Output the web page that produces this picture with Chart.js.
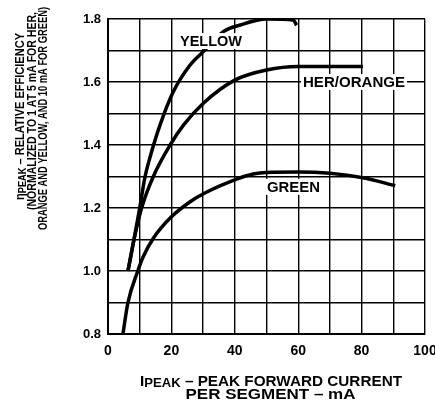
<!DOCTYPE html>
<html lang="en">
<head>
    <meta charset="UTF-8">
    <title>Relative Efficiency vs Peak Current</title>
    <script src="https://cdn.jsdelivr.net/npm/chart.js"></script>
    <style>
        body { margin: 0; background: #fff; }
        canvas { display: block; }
    </style>
</head>
<body>
    <canvas id="chart" width="435" height="419"></canvas>

    <script>
    // data (x = mA, y = relative efficiency)
    const yellowCurrent = [6.3, 8.2, 10, 11.7, 13, 16.4, 20.6, 25.9, 30, 36.4, 41.7, 50, 58.4, 59.5];
    const yellowEff     = [1.0, 1.1, 1.2, 1.3, 1.352, 1.463, 1.569, 1.654, 1.696, 1.76, 1.781, 1.8, 1.797, 1.78];

    const herCurrent = [6.3, 8.2, 10.6, 14.3, 19.6, 23.8, 30, 40, 50, 60, 80.4];
    const herEff     = [1.0, 1.1, 1.2, 1.3, 1.4, 1.463, 1.532, 1.606, 1.638, 1.649, 1.649];

    const greenCurrent = [4.7, 6.3, 9.4, 11.1, 14.3, 20, 25.9, 30.4, 40.4, 45.8, 50, 60, 70, 80.4, 90.6];
    const greenEff     = [0.8, 0.9, 1.0, 1.045, 1.104, 1.172, 1.22, 1.247, 1.291, 1.308, 1.313, 1.314, 1.31, 1.296, 1.271];

    const xTickLabels = ['0', '20', '40', '60', '80', '100'];
    const yTickLabels = ['0.8', '1.0', '1.2', '1.4', '1.6', '1.8'];

    // curve names and where they sit (data coords)
    const curveLabels = ['YELLOW', 'HER/ORANGE', 'GREEN'];
    const labelX = [32.5, 77.6, 58.5];
    const labelY = [1.73, 1.6, 1.267];

    const FONT = '"Liberation Sans", Arial, sans-serif';

    function toPoints(xs, ys) {
        return xs.map((x, i) => ({ x: x, y: ys[i] }));
    }

    function lineSet(xs, ys) {
        return {
            data: toPoints(xs, ys),
            showLine: true,
            borderColor: '#000',
            borderWidth: 3.5,
            pointRadius: 0,
            cubicInterpolationMode: 'monotone',
            fill: false
        };
    }

    // draw text made of parts [[text, isSub], ...], centred on cx and squeezed to width w
    function drawParts(ctx, parts, cx, cy, size, w) {
        let total = 0;
        parts.forEach(p => {
            ctx.font = 'bold ' + (p[1] ? size - 2 : size) + 'px ' + FONT;
            total += ctx.measureText(p[0]).width;
        });
        const k = w ? w / total : 1;
        ctx.save();
        ctx.translate(cx - total * k / 2, cy);
        ctx.scale(k, 1);
        let x = 0;
        parts.forEach(p => {
            ctx.font = 'bold ' + (p[1] ? size - 2 : size) + 'px ' + FONT;
            ctx.fillText(p[0], x, p[1] ? 2 : 0);
            x += ctx.measureText(p[0]).width;
        });
        ctx.restore();
    }

    // white-boxed labels on the curves
    const labelWidths = [62, 102, 53];
    const curveLabelPlugin = {
        id: 'curveLabels',
        afterDatasetsDraw(chart) {
            const ctx = chart.ctx;
            const xs = chart.scales.x, ys = chart.scales.y;
            ctx.save();
            ctx.textAlign = 'left';
            ctx.textBaseline = 'middle';
            curveLabels.forEach((txt, i) => {
                const px = xs.getPixelForValue(labelX[i]);
                const py = ys.getPixelForValue(labelY[i]);
                const w = labelWidths[i];
                ctx.fillStyle = '#fff';
                ctx.fillRect(px - w / 2 - 2, py - 8, w + 4, 16);
                ctx.fillStyle = '#000';
                drawParts(ctx, [[txt, false]], px, py + 1, 14, w);
            });
            ctx.restore();
        }
    };

    const axisTitlePlugin = {
        id: 'axisTitles',
        afterDraw(chart) {
            const ctx = chart.ctx;
            ctx.save();
            ctx.fillStyle = '#000';
            ctx.textAlign = 'left';
            ctx.textBaseline = 'middle';

            // x title
            drawParts(ctx, [['I', false], ['PEAK', true], [' – PEAK FORWARD CURRENT', false]], 271, 382, 14, 262);
            drawParts(ctx, [['PER SEGMENT – mA', false]], 270.5, 395, 14, 170);

            // y title, rotated
            ctx.rotate(-Math.PI / 2);
            drawParts(ctx, [['η', false], ['PEAK', true], [' – RELATIVE EFFICIENCY', false]], -116.5, 21, 12.5, 167);
            drawParts(ctx, [['(NORMALIZED TO 1 AT 5 mA FOR HER,', false]], -111, 32.5, 12.5, 198);
            drawParts(ctx, [['ORANGE AND YELLOW, AND 10 mA FOR GREEN)', false]], -118.5, 44, 12.5, 223);
            ctx.restore();
        }
    };

    const ctx = document.getElementById('chart').getContext('2d');

    new Chart(ctx, {
        type: 'scatter',
        data: {
            datasets: [
                lineSet(yellowCurrent, yellowEff),
                lineSet(herCurrent, herEff),
                lineSet(greenCurrent, greenEff)
            ]
        },
        options: {
            responsive: false,
            devicePixelRatio: 1,
            animation: false,
            layout: { padding: { top: 19, right: 0, left: 0, bottom: 0 } },
            plugins: {
                legend: { display: false },
                tooltip: { enabled: false }
            },
            scales: {
                x: {
                    type: 'linear',
                    min: 0,
                    max: 100,
                    afterFit(s) {
                        s.height = 85;
                        s.paddingRight = 10;
                        s.paddingLeft = 0;
                    },
                    grid: { color: '#000', lineWidth: 1.4, drawTicks: false },
                    border: { color: '#000', width: 2 },
                    ticks: {
                        stepSize: 10,
                        padding: 9,
                        color: '#000',
                        font: { family: FONT, size: 14, weight: 'bold' },
                        callback: v => {
                            const i = xTickLabels.indexOf(String(v));
                            return i >= 0 ? xTickLabels[i] : '';
                        }
                    }
                },
                y: {
                    type: 'linear',
                    min: 0.8,
                    max: 1.8,
                    afterFit(s) {
                        s.width = 108;
                        s.paddingTop = 0;
                        s.paddingBottom = 0;
                    },
                    grid: { color: '#000', lineWidth: 1.4, drawTicks: false },
                    border: { color: '#000', width: 2 },
                    ticks: {
                        stepSize: 0.1,
                        padding: 7,
                        color: '#000',
                        font: { family: FONT, size: 13, weight: 'bold' },
                        callback: v => {
                            const i = yTickLabels.indexOf(Number(v).toFixed(1));
                            return i >= 0 ? yTickLabels[i] : '';
                        }
                    }
                }
            }
        },
        plugins: [curveLabelPlugin, axisTitlePlugin]
    });
    </script>
</body>
</html>
